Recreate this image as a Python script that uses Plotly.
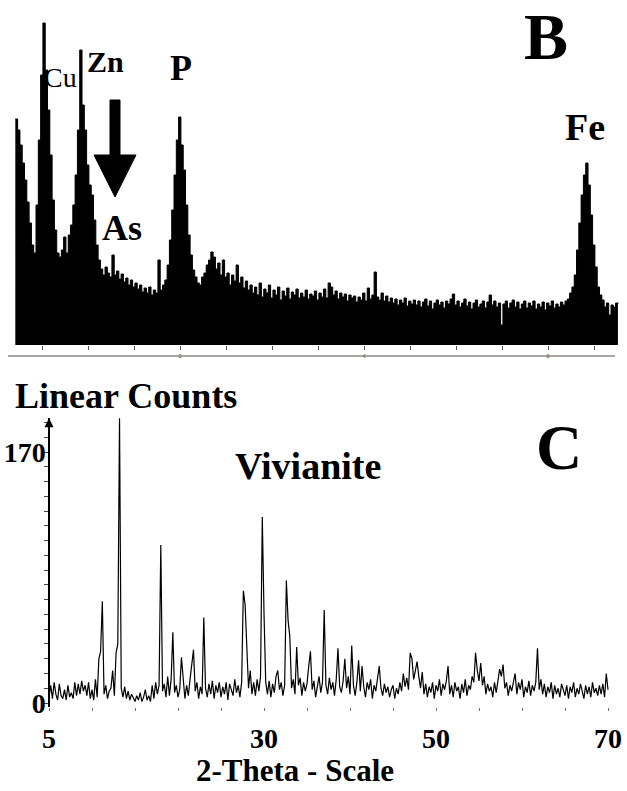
import plotly.graph_objects as go

# ---------------- Panel B : EDS spectrum (energy in keV, counts) ----------------
eds_start_kev = 0.21
eds_step_kev = 0.025
eds_counts = [
    226, 215, 200, 182, 165, 143, 122, 100, 92,
    140, 205, 270, 322, 275, 235, 190, 145, 115, 92, 88, 95, 108, 92, 110,
    120, 140, 170, 215, 295, 240, 215, 180, 160, 150, 125, 100, 85, 76,
    70, 78, 72, 68, 90, 70, 74, 66, 71, 63, 67, 60, 65, 58, 62, 56, 60, 53, 57, 52, 58, 50, 55, 52, 85, 55, 60,
    65, 80, 105, 135, 170, 205, 228, 200, 175, 140, 110, 90, 75, 68, 62, 60,
    68, 72, 80, 85, 93, 88, 76, 82, 70, 85, 68, 72, 60, 70, 64, 80, 62, 68, 57, 64, 55, 60, 52,
    58, 50, 62, 48, 56, 52, 60, 47, 55, 50, 58, 45, 54, 49, 57, 46, 53, 50, 56, 47, 52, 48, 55, 46,
    51, 49, 54, 45, 52, 48, 56, 47, 62, 58, 50, 54, 46, 52, 48, 51, 44, 50, 47, 49, 43, 48, 45, 52,
    44, 57, 46, 50, 73, 48, 45, 52, 44, 49, 43, 47, 42, 46, 40, 45, 42, 47, 39, 44, 41,
    45, 40, 44, 38, 43, 46, 39, 44, 36, 42, 45, 40, 43, 37, 44, 41, 46, 51, 40, 44, 38, 42, 46, 39,
    43, 36, 42, 45, 38, 41, 44, 37, 43, 50, 40, 44, 38, 42, 20, 41, 44, 37, 42, 45, 38, 43, 36, 41,
    44, 37, 42, 39, 44, 36, 41, 38, 43, 35, 42, 39, 44, 37, 41, 38, 43,
    40, 44, 46, 52, 58, 70, 95, 122, 150, 170, 182, 160, 130, 100, 78, 58, 50, 45, 38, 42, 30, 40, 38, 42, 41,
]
eds_energy = [round(eds_start_kev + eds_step_kev * i, 3) for i in range(len(eds_counts))]
eds_tick_values = [0.5, 1.0, 1.5, 2.0, 2.5, 3.0, 3.5, 4.0, 4.5, 5.0, 5.5, 6.0, 6.5]
eds_tick_labels = ["", "", "", "2", "", "", "", "4", "", "", "", "6", ""]
eds_peak_labels = ["Cu", "Zn", "P", "As", "Fe"]

# ---------------- Panel C : XRD pattern (2-theta, linear counts) ----------------
xrd_start_2theta = 5.0
xrd_step_2theta = 0.2
xrd_counts = [
    4, 12, 3, 14, 6, 2, 13, 5, 3, 9,          # 5.0 - 6.8
    2, 12, 4, 7, 3, 14, 5, 13, 6, 15,         # 7.0 - 8.8
    8, 12, 5, 14, 3, 9, 2, 16, 4, 30,         # 9.0 - 10.8
    35, 69, 6, 12, 3, 8, 10, 22, 5, 34,       # 11.0 - 12.8
    40, 193, 10, 4, 11, 3, 8, 2, 6, 3,        # 13.0 - 14.8
    1, 5, 2, 7, 1, 4, 9, 2, 5, 1,             # 15.0 - 16.8
    12, 3, 14, 6, 12, 107, 8, 13, 4, 18,      # 17.0 - 18.8
    5, 16, 48, 7, 12, 4, 9, 31, 14, 3,        # 19.0 - 20.8
    12, 5, 16, 25, 36, 8, 14, 3, 11, 6,       # 21.0 - 22.8
    58, 10, 4, 13, 6, 15, 3, 12, 7, 14,       # 23.0 - 24.8
    4, 11, 6, 14, 2, 13, 8, 5, 16, 7,         # 25.0 - 26.8
    12, 4, 14, 76, 67, 43, 10, 22, 6, 14,     # 27.0 - 28.8
    5, 16, 8, 18, 126, 61, 14, 6, 15, 4,      # 29.0 - 30.8
    13, 7, 18, 22, 9, 14, 5, 12, 83, 56,      # 31.0 - 32.8
    45, 10, 16, 6, 38, 12, 17, 5, 14, 8,      # 33.0 - 34.8
    13, 25, 35, 9, 15, 4, 12, 18, 7, 14,      # 35.0 - 36.8
    63, 12, 6, 17, 9, 14, 5, 16, 37, 11,      # 37.0 - 38.8
    7, 15, 30, 10, 18, 6, 39, 12, 5, 14,      # 39.0 - 40.8
    29, 8, 25, 11, 4, 14, 9, 16, 3, 12,       # 41.0 - 42.8
    8, 15, 25, 10, 5, 13, 7, 11, 4, 9,        # 43.0 - 44.8
    12, 3, 10, 6, 14, 8, 20, 11, 17, 9,       # 45.0 - 46.8
    34, 30, 16, 22, 28, 18, 10, 21, 6, 13,    # 47.0 - 48.8
    4, 11, 7, 14, 3, 12, 8, 16, 5, 13,        # 49.0 - 50.8
    9, 15, 25, 6, 12, 4, 14, 8, 11, 3,        # 51.0 - 52.8
    13, 7, 16, 5, 12, 9, 18, 14, 34, 22,      # 53.0 - 54.8
    15, 27, 12, 18, 6, 13, 8, 11, 4, 14,      # 55.0 - 56.8
    7, 15, 23, 18, 26, 10, 14, 5, 12, 8,      # 57.0 - 58.8
    13, 20, 6, 14, 9, 16, 4, 11, 7, 15,       # 59.0 - 60.8
    5, 12, 8, 14, 37, 9, 16, 6, 13, 4,        # 61.0 - 62.8
    11, 7, 14, 3, 12, 6, 10, 4, 13, 8,        # 63.0 - 64.8
    5, 12, 3, 11, 7, 14, 4, 10, 6, 13,        # 65.0 - 66.8
    8, 3, 12, 6, 11, 4, 14, 7, 10, 5,         # 67.0 - 68.8
    12, 6, 13, 4, 20, 9,                      # 69.0 - 70.0
]
xrd_2theta = [round(xrd_start_2theta + xrd_step_2theta * i, 2) for i in range(len(xrd_counts))]
xrd_tick_values = [5, 10, 15, 20, 25, 30, 35, 40, 45, 50, 55, 60, 65, 70]
xrd_tick_labels = ["5", "", "", "", "", "30", "", "", "", "50", "", "", "", "70"]
xrd_y_tick_values = list(range(0, 200, 10))
xrd_y_tick_labels = ["170" if v == 170 else ("0" if v == 0 else "") for v in xrd_y_tick_values]

# ---------------- layout helpers (pixel -> paper) ----------------
W, H = 627, 791
SERIF = "Liberation Serif"


def px(x):
    return x / W


def py(y):
    return 1 - y / H


fig = go.Figure()

fig.add_trace(go.Scatter(
    x=eds_energy, y=eds_counts, mode="lines", line=dict(color="black", width=1, shape="hv"),
    fill="tozeroy", fillcolor="black", xaxis="x", yaxis="y", showlegend=False,
))

fig.add_trace(go.Scatter(
    x=xrd_2theta, y=xrd_counts, mode="lines", line=dict(color="black", width=1.2),
    xaxis="x2", yaxis="y2", showlegend=False,
))

# Panel B axes: pixel = -4 + 92*keV ; counts baseline at pixel 345
fig.update_layout(
    xaxis=dict(domain=[0, 1], range=[4 / 92, 631 / 92], anchor="y", automargin=False,
               showgrid=False, zeroline=False, showline=False,
               ticks="outside", ticklen=4, tickcolor="#555", tickwidth=1,
               tickvals=eds_tick_values, ticktext=eds_tick_labels,
               tickfont=dict(family=SERIF, size=7, color="#333")),
    yaxis=dict(domain=[py(345), 1], range=[0, 345], visible=False, automargin=False),
    # Panel C axes: pixel = 49 + 8.6*(2theta-5) ; counts: pixel = 703 - 1.476*c
    xaxis2=dict(domain=[0, 1], range=[5 - 49 / 8.6, 5 + 578 / 8.6], anchor="y2", automargin=False,
                showgrid=False, zeroline=False, showline=False,
                ticks="outside", ticklen=3, tickcolor="#777", tickwidth=1,
                tickvals=xrd_tick_values, ticktext=xrd_tick_labels,
                ticklabelstandoff=3,
                tickfont=dict(family=SERIF, size=28, color="black", weight="bold")),
    yaxis2=dict(domain=[py(707), py(418)], range=[-4 / 1.476, 285 / 1.476],
                anchor="free", position=px(49), automargin=False,
                showgrid=False, zeroline=False, showline=True, linecolor="black", linewidth=1.5,
                ticks="outside", ticklen=4, tickcolor="#444", tickwidth=1,
                tickvals=xrd_y_tick_values, ticktext=xrd_y_tick_labels,
                ticklabelstandoff=-7,
                tickfont=dict(family=SERIF, size=28, color="black", weight="bold")),
    width=W, height=H, margin=dict(l=0, r=0, t=0, b=0, pad=0, autoexpand=False),
    paper_bgcolor="white", plot_bgcolor="white", showlegend=False,
)

annotations = []


def txt(text, x, y, size, bold=True, xanchor="center", yanchor="middle"):
    annotations.append(dict(
        text=f"<b>{text}</b>" if bold else text, x=px(x), y=py(y), xref="paper", yref="paper",
        xanchor=xanchor, yanchor=yanchor, showarrow=False,
        font=dict(family=SERIF, size=size, color="black"),
    ))


# Panel B labels
txt("B", 546, 36, 66)
txt(eds_peak_labels[0], 60, 78, 28, bold=False)
txt(eds_peak_labels[1], 105, 62, 30)
txt(eds_peak_labels[2], 181, 68, 36)
txt(eds_peak_labels[3], 122, 228, 36)
txt(eds_peak_labels[4], 585, 127, 38)

# Panel C labels
txt("Linear Counts", 13, 396, 36, xanchor="left")
txt("Vivianite", 308, 466, 38)
txt("C", 559, 447, 64)
txt("2-Theta - Scale", 295, 790, 31, yanchor="bottom")

# arrow head on the y axis of panel C
annotations.append(dict(
    x=5, y=193, xref="x2", yref="y2", text="", showarrow=True,
    ax=0, ay=12, arrowhead=2, arrowsize=1.2, arrowwidth=1.5, arrowcolor="black",
))
fig.update_layout(annotations=annotations)

# big down arrow pointing to As (panel B)
arrow_path = (
    f"M {px(110)},{py(100)} L {px(120)},{py(100)} L {px(120)},{py(155)} "
    f"L {px(136)},{py(155)} L {px(115)},{py(197)} L {px(94)},{py(155)} "
    f"L {px(110)},{py(155)} Z"
)
fig.add_shape(type="path", path=arrow_path, xref="paper", yref="paper",
              fillcolor="black", line=dict(color="black", width=1))
# lower rule of panel B
fig.add_shape(type="line", x0=px(8), x1=px(615), y0=py(356), y1=py(356),
              xref="paper", yref="paper", line=dict(color="#888", width=1.5))

fig.write_html("out.html", config={"displayModeBar": False},
               post_script="document.body.style.margin='0';")
